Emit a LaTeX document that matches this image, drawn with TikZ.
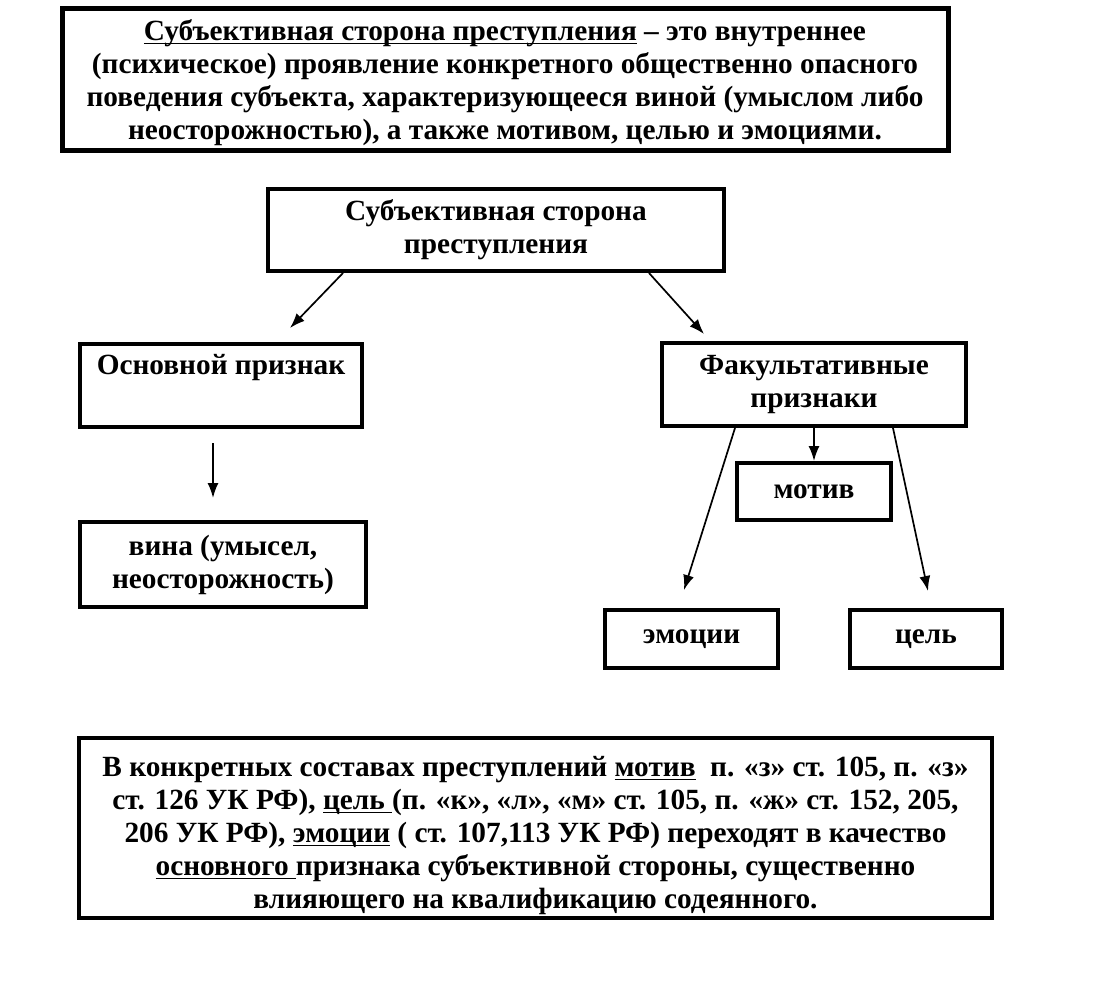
\documentclass[tikz,border=0pt]{standalone}
\usepackage{fontspec}
\setmainfont{Liberation Serif}
\usetikzlibrary{arrows.meta}
\newcommand\myul[1]{\setbox0\hbox{#1}\rlap{\rule[-3.5pt]{\wd0}{1.6pt}}\box0\relax}
\begin{document}
\begin{tikzpicture}[x=1pt,y=-1pt,
  box/.style={draw, line width=4pt, inner sep=0pt, align=center},
  lbl/.style={font=\fontsize{29.3}{33}\selectfont\bfseries},
  txt/.style={inner sep=0pt, align=center},
  arr/.style={line width=1.7pt, -{Latex[length=15pt,width=11pt]}}]
\useasboundingbox[fill=white] (0,0) rectangle (1103,993);
\node[box, line width=5pt, minimum width=886pt, minimum height=142pt] (def) at (505,79) {};
\node[txt, lbl] (deftext) at ([yshift=-4pt]def.center)
  {\myul{Субъективная сторона преступления} – это внутреннее\\
   (психическое) проявление конкретного общественно опасного\\
   поведения субъекта, характеризующееся виной (умыслом либо\\
   неосторожностью), а также мотивом, целью и эмоциями.};
\node[box, lbl, minimum width=456pt, minimum height=82pt] (title) at (496,230)
  {Субъективная сторона\\преступления};
\node[box, lbl, minimum width=282pt, minimum height=83pt] (osn) at (221,385.5)
  {Основной признак\\\strut};
\node[box, lbl, minimum width=304pt, minimum height=83pt] (fak) at (814,384.5)
  {Факультативные\\признаки};
\node[box, lbl, minimum width=154pt, minimum height=57pt] (motiv) at (814,491.5) {мотив};
\node[box, lbl, minimum width=286pt, minimum height=85pt] (vina) at (223,564.5)
  {вина (умысел,\\неосторожность)};
\node[box, lbl, minimum width=173pt, minimum height=58pt] (emo) at (691.5,639) {эмоции};
\node[box, lbl, minimum width=152pt, minimum height=58pt] (cel) at (926,639) {цель};
\node[box, minimum width=913pt, minimum height=180pt] (note) at (535.5,828) {};
\node[txt, lbl] (notetext) at ([yshift=-8pt]note.center)
  {В конкретных составах преступлений \myul{мотив}\ \ п. «з» ст. 105, п. «з»\\
   ст. 126 УК РФ), \myul{цель }(п. «к», «л», «м» ст. 105, п. «ж» ст. 152, 205,\\
   206 УК РФ), \myul{эмоции} ( ст. 107,113 УК РФ) переходят в качество\\
   \myul{основного }признака субъективной стороны, существенно\\
   влияющего на квалификацию содеянного.};
\coordinate (a1) at (290,328);
\coordinate (a2) at (704,334);
\coordinate (a3) at (213,498);
\coordinate (a5) at (684,590);
\coordinate (a6) at (928,591);
\draw[arr] ([xshift=77pt]title.south west) -- (a1);
\draw[arr] ([xshift=-77pt]title.south east) -- (a2);
\draw[arr] ([yshift=-14pt]osn.south -| a3) -- (a3);
\draw[arr] (fak.south) -- (motiv.north);
\draw[arr] ([xshift=75pt]fak.south west) -- (a5);
\draw[arr] ([xshift=-75pt]fak.south east) -- (a6);
\end{tikzpicture}
\end{document}
